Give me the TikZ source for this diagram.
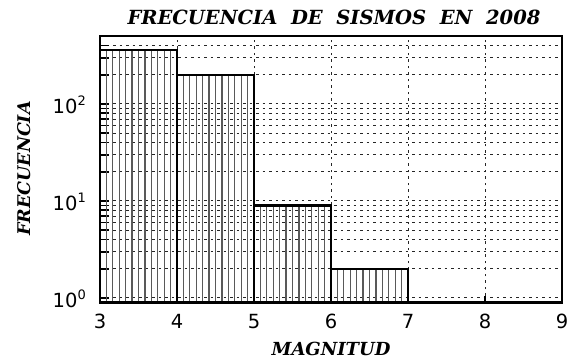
\documentclass[tikz,border=0pt]{standalone}
\usepackage{fontspec}
\setmainfont{DejaVu Serif}
\newfontfamily\tickfont{DejaVu Sans}
\newfontfamily\labfont{DejaVu Serif}
\begin{document}
\begin{tikzpicture}[x=1pt,y=1pt,
  frame/.style={line width=2.6pt},
  barline/.style={line width=2.4pt},
  hatchline/.style={line width=1.2pt, black!65},
  gridline/.style={line width=1pt, dash pattern=on 2.5pt off 4pt, black!85},
  tickline/.style={line width=1.8pt},
  ticklab/.style={font=\tickfont\fontsize{19.5}{19.5}\selectfont, inner sep=0pt},
  axlab/.style={font=\labfont\bfseries\itshape\fontsize{18}{18}\selectfont, inner sep=0pt},
  ylab/.style={font=\labfont\bfseries\itshape\fontsize{17.5}{17.5}\selectfont, inner sep=0pt},
  titlelab/.style={font=\labfont\bfseries\itshape\fontsize{19.5}{19.5}\selectfont, inner sep=0pt}]
\useasboundingbox (0,0) rectangle (573,363);
\def\xl{100}\def\xr{562}\def\yb{60.6}\def\yt{326.8}
% grid horizontal
\foreach \d in {0,1,2}{
  \foreach \m in {1,...,9}{
    \pgfmathsetmacro\yy{65+97*(\d+log10(\m))}
    \ifdim\yy pt<\yt pt
      \draw[gridline] (\xl,\yy) -- (\xr,\yy);
      \draw[tickline] (\xl,\yy) -- (\xl+9,\yy);
    \fi
  }
}
% grid vertical
\foreach \k in {4,...,8}{
  \pgfmathsetmacro\xx{100+77*(\k-3)}
  \draw[gridline] (\xx,\yb) -- (\xx,\yt);
  \draw[tickline] (\xx,\yb) -- (\xx,\yb+6);
}
% bars
\foreach \a/\v in {3/360,4/200,5/9,6/2}{
  \pgfmathsetmacro\xa{100+77*(\a-3)}
  \pgfmathsetmacro\xb{\xa+77}
  \pgfmathsetmacro\yy{65+97*log10(\v)}
  \foreach \i in {1,...,11}{
    \draw[hatchline] (\xa+\i*77/12,\yb) -- (\xa+\i*77/12,\yy);
  }
  \draw[barline] (\xa,\yb) rectangle (\xb,\yy);
}
\draw[frame] (\xl,\yb) rectangle (\xr,\yt);
% x tick labels
\foreach \k in {3,...,9}{
  \node[ticklab] (xl\k) at ({100+77*(\k-3)},41.5) {\k};
}
% y tick labels
\foreach \d/\yy in {0/65,1/162,2/259}{
  \node[ticklab, anchor=east] (yl\d) at (86,\yy-1) {10\raisebox{0.42em}{\fontsize{13}{13}\selectfont\d}};
}
\node[axlab] (xlabel) at (331,14.5) {MAGNITUD};
\node[ylab, rotate=90] (ylabel) at (24,194.5) {FRECUENCIA};
\node[titlelab] (title) at (334,345.5) {FRECUENCIA\ \ DE\ \ SISMOS\ \ EN\ \ 2008};
\end{tikzpicture}
\end{document}
